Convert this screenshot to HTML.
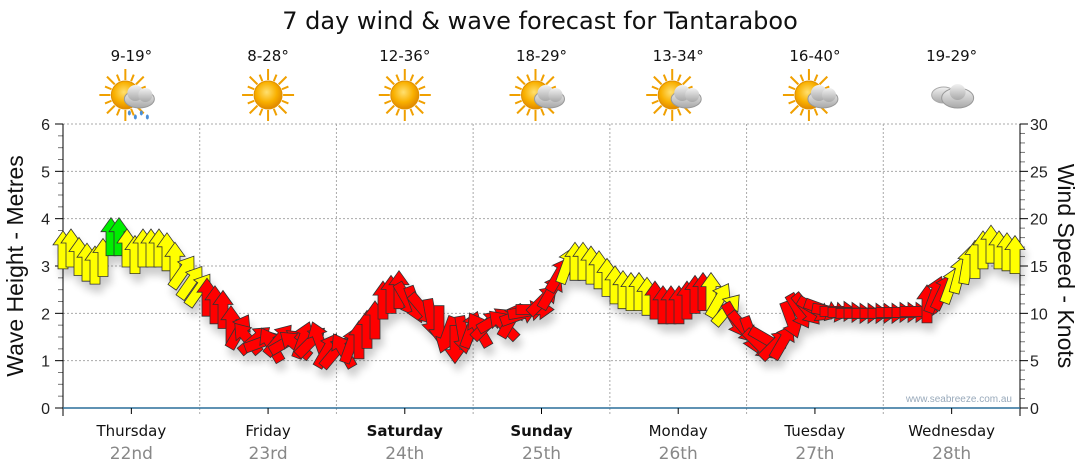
<!DOCTYPE html>
<html><head><meta charset="utf-8"><style>
body{margin:0;background:#fff;}
svg{display:block;font-family:"DejaVu Sans",Verdana,sans-serif;}
</style></head><body>
<svg id="chart" width="1080" height="475" viewBox="0 0 1080 475">
<defs>
<filter id="sh" x="-50%" y="-50%" width="200%" height="200%"><feGaussianBlur in="SourceAlpha" stdDeviation="4"/><feOffset dx="3" dy="8"/><feComponentTransfer><feFuncA type="linear" slope="0.2"/></feComponentTransfer><feMerge><feMergeNode/><feMergeNode in="SourceGraphic"/></feMerge></filter>
<radialGradient id="sun" cx="45%" cy="40%" r="60%"><stop offset="0" stop-color="#ffe070"/><stop offset="0.6" stop-color="#f9b000"/><stop offset="1" stop-color="#e08800"/></radialGradient>
<linearGradient id="cld" x1="0" y1="0" x2="0" y2="1"><stop offset="0" stop-color="#f2f2f2"/><stop offset="1" stop-color="#a8a8a8"/></linearGradient>
</defs>
<text x="540" y="29" font-size="24" text-anchor="middle" fill="#111">7 day wind &amp; wave forecast for Tantaraboo</text>
<g id="grid"></g>
<g id="axes"></g>
<g id="icons"></g>
<g id="arrows" filter="url(#sh)"></g>
<text x="1012" y="402" font-size="10" text-anchor="end" fill="#9ab" font-family="Liberation Sans, sans-serif">www.seabreeze.com.au</text>
<text transform="translate(23,266) rotate(-90)" font-size="23" text-anchor="middle" fill="#111" font-family="Liberation Sans, sans-serif">Wave Height - Metres</text>
<text transform="translate(1058,266) rotate(90)" font-size="23" text-anchor="middle" fill="#111" font-family="Liberation Sans, sans-serif">Wind Speed - Knots</text>
</svg>
<script>
const days=["Thursday","Friday","Saturday","Sunday","Monday","Tuesday","Wednesday"];
const dates=["22nd","23rd","24th","25th","26th","27th","28th"];
const boldDays=[false,false,true,true,false,false,false];
const temps=["9-19°","8-28°","12-36°","18-29°","13-34°","16-40°","19-29°"];
const weather=["rain","sun","sun","partly","partly","partly","cloud"];
const waveTicks=[0,1,2,3,4,5,6];
const windTicks=[0,5,10,15,20,25,30];
const windSpeed=[16.7,16.9,16.0,15.4,15.1,15.9,18.1,18.1,16.9,16.2,16.9,16.9,16.9,16.5,15.5,14.4,13.3,
12.5,11.7,10.9,10.4,8.8,8.1,7.4,7.2,7.0,6.7,7.2,7.0,6.7,7.2,7.0,7.2,6.1,
5.9,6.1,6.7,7.2,8.3,9.3,11.4,12.0,12.5,11.4,10.9,10.4,9.5,8.8,7.7,6.7,7.7,
8.3,8.3,8.8,9.3,8.8,9.3,9.8,10.2,10.4,11.4,12.3,14.1,15.1,15.5,15.5,15.1,14.6,
13.8,13.0,12.5,12.3,12.3,11.8,11.4,10.9,10.9,10.9,11.4,12.0,12.3,12.3,11.4,10.4,9.3,
8.5,7.7,6.7,7.2,6.7,7.0,9.3,10.2,10.4,10.4,10.4,10.2,10.2,10.1,10.0,10.0,10.0,
10.0,10.0,10.1,10.1,10.1,10.2,11.0,12.0,12.3,13.0,14.1,15.1,15.7,16.7,17.3,16.7,16.5,16.2];
const windDir=[0,0,0,0,0,0,0,0,0,0,0,0,0,0,0,35,35,
35,0,0,0,0,30,-40,50,70,-30,40,60,-50,20,45,-20,30,
40,-30,20,0,0,0,0,0,0,150,160,140,170,180,200,180,170,
20,-30,45,60,-45,30,70,80,90,45,30,30,20,0,0,0,0,
0,0,0,0,0,0,0,0,0,0,0,0,0,0,30,40,150,
140,160,135,120,45,30,160,150,140,120,110,100,90,90,90,90,90,
90,90,90,90,90,90,0,20,25,20,15,10,0,0,0,0,0,0];
const windColor="yyyyyyggyyyyyyyyyyrrrrrrrrrrrrrrrrrrrrrrrrrrrrrrrrrrrrrrrrrrrrryyyyyyyyyyyrrrrrrryyyrrrrrrrrrrrrrrrrrrrrrrrrrrryyyyyyyyyyy".split("");
const NS="http://www.w3.org/2000/svg";
const X0=63,X1=1020,Y0=408,Y6=124;
const xDay=d=>X0+(X1-X0)*d/7;
const yWave=m=>Y0-(Y0-Y6)*m/6;
const yWind=k=>Y0-(Y0-Y6)*k/30;
const xIdx=i=>X0+(1015-X0)*i/(windSpeed.length-1);
function el(tag,attrs,parent){const e=document.createElementNS(NS,tag);for(const k in attrs)e.setAttribute(k,attrs[k]);parent.appendChild(e);return e;}
const grid=document.getElementById('grid'),axes=document.getElementById('axes'),icons=document.getElementById('icons'),arrows=document.getElementById('arrows');
waveTicks.forEach(m=>{
  if(m>0){const g=el('line',{x1:X0,x2:X1,y1:yWave(m),y2:yWave(m),stroke:'#aaa','stroke-dasharray':'2,2'},grid);
  
  }
  const t=el('text',{x:50,y:yWave(m)+6,'font-size':16,'text-anchor':'end',fill:'#222','font-family':'Liberation Sans, sans-serif'},axes);t.textContent=m;
  
  
});
windTicks.forEach(k=>{
  const t=el('text',{x:1030,y:yWind(k)+6,'font-size':16,fill:'#222','font-family':'Liberation Sans, sans-serif'},axes);t.textContent=k;
  
  
});
for(let i=0;i<=24;i++){const y=yWave(i/4);el('line',{x1:X0-(i%4?5:8),x2:X0,y1:y,y2:y,stroke:i%4?'#777':'#000'},axes);}
for(let k=0;k<=30;k++){const y=yWind(k);el('line',{x1:X1,x2:X1+(k%5?5:8),y1:y,y2:y,stroke:k%5?'#777':'#000'},axes);}
el('line',{x1:X0,x2:X0,y1:Y6,y2:Y0+8,stroke:'#000'},axes);
el('line',{x1:X1,x2:X1,y1:Y6,y2:Y0+8,stroke:'#000'},axes);
el('line',{x1:X0,x2:X1,y1:Y0,y2:Y0,stroke:'#2a6f9a','stroke-width':1.5},axes);
for(let d=0;d<7;d++){
  if(d>0){const g=el('line',{x1:xDay(d),x2:xDay(d),y1:Y6,y2:Y0+8,stroke:'#aaa','stroke-dasharray':'2,2'},grid);
  
  }
  const cx=xDay(d+0.5);
  el('line',{x1:cx,x2:cx,y1:Y0,y2:Y0+6,stroke:'#000'},axes);
  const t=el('text',{x:cx,y:436,'font-size':15,'text-anchor':'middle',fill:'#111','font-weight':boldDays[d]?'bold':'normal'},axes);t.textContent=days[d];
  
  
  const t2=el('text',{x:cx,y:459,'font-size':17,'text-anchor':'middle',fill:'#888'},axes);t2.textContent=dates[d];
  
  
  const t3=el('text',{x:cx,y:61,'font-size':15,'text-anchor':'middle',fill:'#111'},icons);t3.textContent=temps[d];
  
  
  const g=el('g',{transform:`translate(${cx},95)`},icons);
  
  
  const w=weather[d];
  if(w!=='cloud'){const sx=w==='sun'?0:-6;
    for(let r=0;r<16;r++){const a=r*Math.PI/8;el('line',{x1:sx+Math.cos(a)*15,y1:Math.sin(a)*15,x2:sx+Math.cos(a)*(r%2?22:26),y2:Math.sin(a)*(r%2?22:26),stroke:'#f0a000','stroke-width':2},g);}
    el('circle',{cx:sx,cy:0,r:14,fill:'url(#sun)',stroke:'#e09000'},g);}
  if(w==='rain'||w==='partly'){
    el('ellipse',{cx:8,cy:4,rx:15,ry:9,fill:'url(#cld)',stroke:'#999'},g);
    el('circle',{cx:4,cy:-2,r:8,fill:'url(#cld)'},g);el('circle',{cx:14,cy:0,r:7,fill:'url(#cld)'},g);}
  if(w==='rain'){for(let r=0;r<4;r++)el('ellipse',{cx:-2+r*6,cy:18+(r%2)*4,rx:1.5,ry:2.5,fill:'#4a8fd8'},g);}
  if(w==='cloud'){
    el('ellipse',{cx:-8,cy:0,rx:12,ry:8,fill:'url(#cld)',stroke:'#aaa'},g);
    el('ellipse',{cx:6,cy:3,rx:16,ry:10,fill:'url(#cld)',stroke:'#999'},g);
    el('circle',{cx:6,cy:-3,r:8,fill:'url(#cld)'},g);}
}
const cols={y:'#ffff00',r:'#ff0000',g:'#00ee00'};
windSpeed.forEach((k,i)=>{
  const p=el('path',{d:'M0,-19 L10,-5 L5,-5 L5,19 L-5,19 L-5,-5 L-10,-5 Z',fill:cols[windColor[i]],stroke:'#333','stroke-width':0.8,'stroke-linejoin':'miter',
    transform:`translate(${xIdx(i).toFixed(1)},${yWind(k).toFixed(1)}) rotate(${windDir[i]})`},arrows);
  
  
});
</script>
</body></html>
